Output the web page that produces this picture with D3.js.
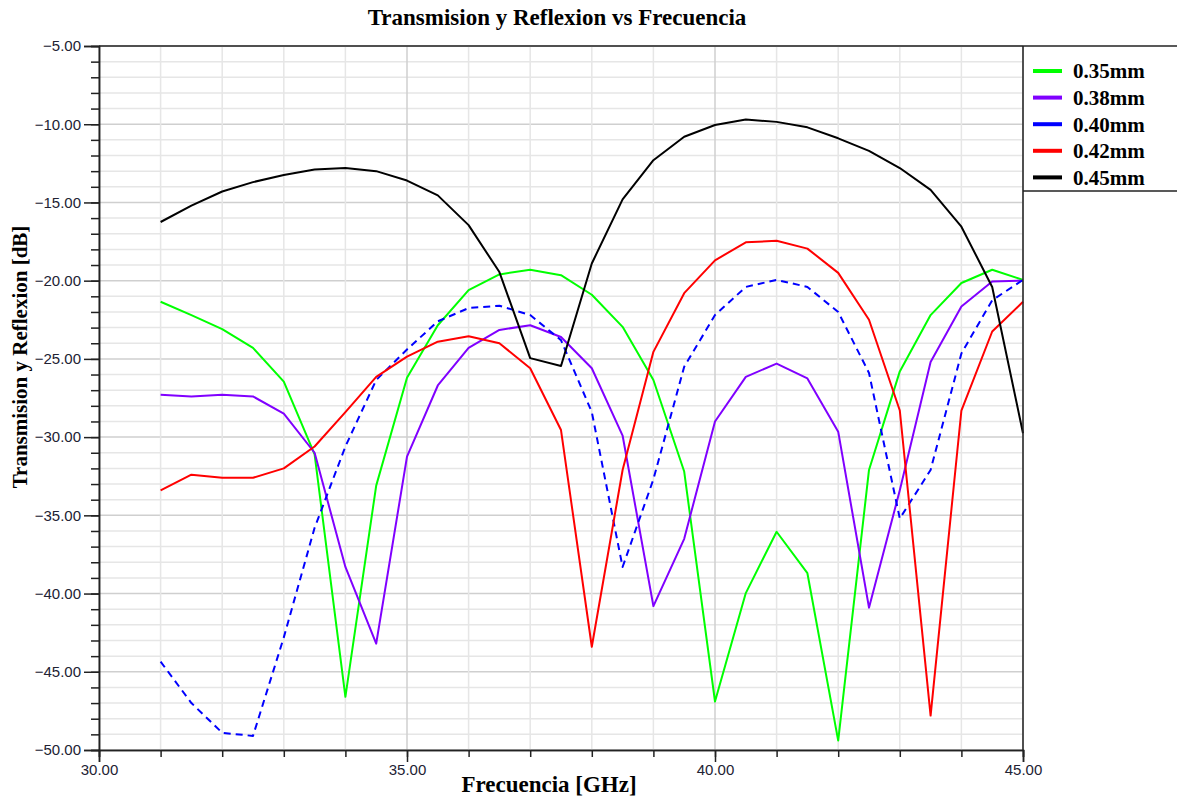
<!DOCTYPE html>
<html>
<head>
<meta charset="utf-8">
<script src="https://cdn.jsdelivr.net/npm/d3@7"></script>
<style>
  body { margin: 0; background: #fff; }
</style>
</head>
<body>
<svg width="1177" height="798"></svg>
<script>
// frecuencias (GHz)
var freq = [31, 31.5, 32, 32.5, 33, 33.5, 34, 34.5, 35, 35.5, 36, 36.5, 37, 37.5, 38,
            38.5, 39, 39.5, 40, 40.5, 41, 41.5, 42, 42.5, 43, 43.5, 44, 44.5, 45]

var series = ["0.35mm", "0.38mm", "0.40mm", "0.42mm", "0.45mm"]
var colors = ["#00ff00", "#8000ff", "#0000ff", "#ff0000", "#000000"]

var s035 = [-21.35, -22.2, -23.1, -24.3, -26.45, -31.1, -46.6, -33.1, -26.2, -22.85, -20.6, -19.6, -19.3, -19.65, -20.9,
            -22.95, -26.35, -32.2, -46.9, -39.97, -36.05, -38.7, -49.4, -32.1, -25.8, -22.2, -20.15, -19.3, -19.95]
var s038 = [-27.3, -27.4, -27.3, -27.4, -28.5, -31.0, -38.3, -43.2, -31.25, -26.7, -24.3, -23.15, -22.85, -23.6, -25.6,
            -29.9, -40.8, -36.5, -29.0, -26.15, -25.3, -26.25, -29.65, -40.9, -33.4, -25.2, -21.65, -20.05, -20.0]
var s040 = [-44.35, -47.0, -48.9, -49.1, -42.8, -35.8, -30.6, -26.35, -24.4, -22.6, -21.75, -21.6, -22.2, -23.8, -28.4,
            -38.3, -32.7, -25.5, -22.2, -20.4, -19.95, -20.4, -22.0, -25.9, -35.2, -32.1, -24.65, -21.25, -19.95]
var s042 = [-33.4, -32.4, -32.6, -32.6, -32.0, -30.6, -28.4, -26.15, -24.85, -23.9, -23.55, -24.0, -25.6, -29.55, -43.4,
            -32.1, -24.55, -20.8, -18.7, -17.55, -17.45, -17.95, -19.5, -22.5, -28.3, -47.8, -28.3, -23.25, -21.35]
var s045 = [-16.25, -15.2, -14.3, -13.7, -13.25, -12.9, -12.8, -13.0, -13.6, -14.55, -16.45, -19.45, -24.95, -25.45, -18.9,
            -14.8, -12.3, -10.8, -10.05, -9.7, -9.85, -10.2, -10.9, -11.7, -12.8, -14.2, -16.55, -20.4, -29.75]
var values = [s035, s038, s040, s042, s045]

var xTicks = [30, 35, 40, 45]
var yTicks = [-5, -10, -15, -20, -25, -30, -35, -40, -45, -50]

var svg = d3.select("svg")
var margin = {top: 46, left: 99, right: 1023, bottom: 750}
var serif = "'Liberation Serif', 'Times New Roman', serif"

var x = d3.scaleLinear().domain([30, 45]).range([margin.left, margin.right])
var y = d3.scaleLinear().domain([-5, -50]).range([margin.top, margin.bottom])

var minorX = d3.range(30, 46, 1)
var minorY = d3.range(-50, -4, 1)

// rejilla
svg.append("g").selectAll("line")
  .data(minorY)
  .enter().append("line")
  .attr("x1", margin.left).attr("x2", margin.right)
  .attr("y1", d => y(d)).attr("y2", d => y(d))
  .attr("stroke", d => d % 5 === 0 ? "#cfcfcf" : "#e6e6e6")
  .attr("stroke-width", 1.5)

svg.append("g").selectAll("line")
  .data(minorX)
  .enter().append("line")
  .attr("x1", d => x(d)).attr("x2", d => x(d))
  .attr("y1", margin.top).attr("y2", margin.bottom)
  .attr("stroke", d => d % 5 === 0 ? "#cfcfcf" : "#e6e6e6")
  .attr("stroke-width", 1.5)

// curvas
var line = d3.line()
  .x((d, i) => x(freq[i]))
  .y(d => y(d))

values.forEach(function (vals, k) {
  svg.append("path")
    .datum(vals)
    .attr("d", line)
    .attr("fill", "none")
    .attr("stroke", colors[k])
    .attr("stroke-width", 2)
    .attr("stroke-linejoin", "round")
    .attr("stroke-dasharray", k === 2 ? "7,5" : null)
})

// ejes
svg.append("g")
  .attr("transform", `translate(${margin.left},0)`)
  .call(d3.axisLeft(y).tickValues(minorY).tickSize(8).tickFormat(""))
var yAxisG = svg.append("g")
  .attr("transform", `translate(${margin.left},0)`)
  .call(d3.axisLeft(y).tickValues(yTicks).tickSize(15).tickPadding(3).tickFormat(d3.format(".2f")))

svg.append("g")
  .attr("transform", `translate(0,${margin.bottom})`)
  .call(d3.axisBottom(x).tickValues(minorX).tickSize(7).tickFormat(""))
var xAxisG = svg.append("g")
  .attr("transform", `translate(0,${margin.bottom})`)
  .call(d3.axisBottom(x).tickValues(xTicks).tickSize(12).tickPadding(2).tickFormat(d3.format(".2f")))

svg.selectAll(".domain").attr("stroke", "#222").attr("stroke-width", 1.5)
svg.selectAll(".tick line").attr("stroke", "#222").attr("stroke-width", 1.5)

yAxisG.attr("font-size", null).attr("font-family", null)
xAxisG.attr("font-size", null).attr("font-family", null)
yAxisG.selectAll("text")
  .style("font-family", "'Liberation Sans', Arial, sans-serif")
  .style("font-size", "15px")
  .style("fill", "#222233")
xAxisG.selectAll("text")
  .style("font-family", "'Liberation Sans', Arial, sans-serif")
  .style("font-size", "15px")
  .style("fill", "#222233")

// marco
svg.append("line").attr("x1", margin.left).attr("x2", 1177).attr("y1", margin.top).attr("y2", margin.top)
  .attr("stroke", "#222").attr("stroke-width", 1.5)
svg.append("line").attr("x1", margin.right).attr("x2", margin.right).attr("y1", margin.top).attr("y2", margin.bottom)
  .attr("stroke", "#222").attr("stroke-width", 1.5)

// leyenda
svg.append("line").attr("x1", margin.right).attr("x2", 1177).attr("y1", 191).attr("y2", 191)
  .attr("stroke", "#222").attr("stroke-width", 1.5)

var legend = svg.append("g").selectAll("g")
  .data(series)
  .enter().append("g")
  .attr("transform", (d, i) => `translate(1033,${71 + i * 26.6})`)

legend.append("line")
  .attr("x1", 0).attr("x2", 29)
  .attr("stroke", (d, i) => colors[i])
  .attr("stroke-width", 4)

legend.append("text")
  .attr("x", 40)
  .attr("dy", "0.35em")
  .style("font-family", serif)
  .style("font-weight", "bold")
  .style("font-size", "21px")
  .text(d => d)

// titulos
svg.append("text")
  .attr("x", 557).attr("y", 25)
  .style("text-anchor", "middle")
  .style("font-family", serif)
  .style("font-weight", "bold")
  .style("font-size", "23px")
  .text("Transmision y Reflexion vs Frecuencia")

svg.append("text")
  .attr("x", 549).attr("y", 792)
  .style("text-anchor", "middle")
  .style("font-family", serif)
  .style("font-weight", "bold")
  .style("font-size", "23px")
  .text("Frecuencia [GHz]")

svg.append("text")
  .attr("transform", "translate(27,357) rotate(-90)")
  .style("text-anchor", "middle")
  .style("font-family", serif)
  .style("font-weight", "bold")
  .style("font-size", "21px")
  .text("Transmision y Reflexion [dB]")
</script>
</body>
</html>
